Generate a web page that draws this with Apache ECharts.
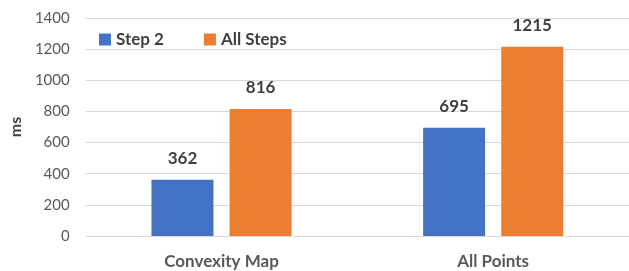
<!DOCTYPE html>
<html>
<head>
<meta charset="utf-8">
<script src="https://cdn.jsdelivr.net/npm/echarts@6/dist/echarts.min.js"></script>
<style>
  html, body { margin: 0; padding: 0; background: #fff; }
  #chart { width: 629px; height: 271px; }
</style>
</head>
<body>
<div id="chart"></div>
<script>
const categories = ['Convexity Map', 'All Points'];
const step2 = [362, 695];
const allSteps = [816, 1215];
const yTicks = [0, 200, 400, 600, 800, 1000, 1200, 1400];

const chart = echarts.init(document.getElementById('chart'));
const font = 'Lato, "Open Sans", sans-serif';

const barLabel = {
  show: true,
  position: 'top',
  distance: 13,
  color: '#404040',
  fontFamily: font,
  fontWeight: 'bold',
  fontSize: 17
};

chart.setOption({
  animation: false,
  textStyle: {fontFamily: font},
  legend: {
    left: 94,
    top: 26,
    itemWidth: 12,
    itemHeight: 12,
    itemGap: 40,
    icon: 'rect',
    textStyle: {color: '#404040', fontSize: 17, fontWeight: 'bold', fontFamily: font},
    data: ['Step 2', 'All Steps']
  },
  grid: {
    left: 83,
    top: 18,
    width: 548,
    height: 218
  },
  xAxis: {
    type: 'category',
    data: categories,
    axisLine: {show: false},
    axisTick: {show: false},
    axisLabel: {
      color: '#595959',
      fontSize: 17,
      fontWeight: 'bold',
      margin: 17
    }
  },
  yAxis: {
    type: 'value',
    min: yTicks[0],
    max: yTicks[yTicks.length - 1],
    interval: 200,
    name: 'ms',
    nameLocation: 'middle',
    nameGap: 60,
    nameRotate: 90,
    nameTextStyle: {color: '#404040', fontSize: 16, fontWeight: 'bold', fontFamily: font},
    axisLine: {show: false},
    axisTick: {show: false},
    axisLabel: {color: '#595959', fontSize: 15, margin: 16, formatter: v => String(v)},
    splitLine: {lineStyle: {color: '#d9d9d9', width: 1}}
  },
  series: [
    {
      name: 'Step 2',
      type: 'bar',
      data: step2,
      barWidth: 62,
      barGap: '26%',
      itemStyle: {color: '#4472c4'},
      label: barLabel
    },
    {
      name: 'All Steps',
      type: 'bar',
      data: allSteps,
      barWidth: 62,
      itemStyle: {color: '#ed7d31'},
      label: barLabel
    }
  ]
});
</script>
</body>
</html>
